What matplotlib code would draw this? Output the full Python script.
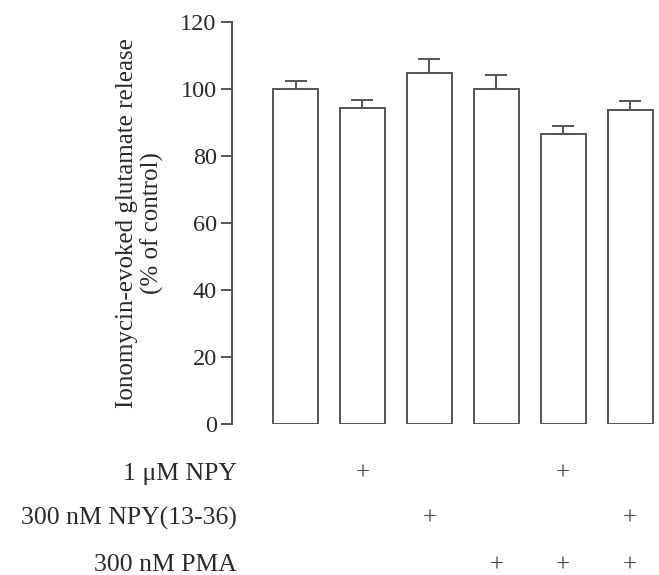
import matplotlib.pyplot as plt
import numpy as np

# bar values (% of control) and upward SEM
means = [100.0, 94.3, 104.8, 100.0, 86.6, 93.8]
sems = [2.3, 2.5, 4.1, 4.2, 2.3, 2.6]

# treatment table under the bars
row_labels = ["1 \u03bcM NPY", "300 nM NPY(13-36)", "300 nM PMA"]
npy = [0, 1, 0, 0, 1, 0]
npy_13_36 = [0, 0, 1, 0, 0, 1]
pma = [0, 0, 0, 1, 1, 1]

plt.rcParams['font.family'] = ['Liberation Serif', 'DejaVu Serif']
line_col = '#555555'
text_col = '#2a2a2a'

fig = plt.figure(figsize=(6.59, 5.75), dpi=100)
ax = fig.add_axes([0.352, 0.2626, 0.645, 0.699])

x = np.arange(len(means))
ax.bar(x, means, width=0.67, color='white', edgecolor=line_col, linewidth=1.4)
ax.errorbar(x, means, yerr=[np.zeros(len(sems)), sems], fmt='none',
            ecolor=line_col, elinewidth=1.4, capsize=8, capthick=1.4)

ax.set_xlim(-0.95, 5.4)
ax.set_ylim(0, 120)
ax.set_yticks(np.arange(0, 121, 20))
ax.set_xticks([])
for s in ['top', 'right', 'bottom']:
    ax.spines[s].set_visible(False)
ax.spines['left'].set_color(line_col)
ax.spines['left'].set_linewidth(1.4)
ax.tick_params(axis='y', length=8, width=1.4, color=line_col, labelsize=17.5,
               labelcolor=text_col, pad=3)
ax.set_ylabel("Ionomycin-evoked glutamate release\n(% of control)",
              fontsize=18, color=text_col, linespacing=1.15)
ax.yaxis.set_label_coords(-0.16, 0.5)

# + signs table
rows = [npy, npy_13_36, pma]
row_y = [-0.124, -0.234, -0.351]
for label, flags, yy in zip(row_labels, rows, row_y):
    ax.text(0.012, yy, label, transform=ax.transAxes, ha='right', va='center',
            fontsize=18.5, color=text_col)
    for xi, f in zip(x, flags):
        if f:
            ax.text(xi, yy, "+", transform=ax.get_xaxis_transform(),
                    ha='center', va='center', fontsize=18, color='#444444',
                    clip_on=False)

fig.savefig("out.png", dpi=100)
